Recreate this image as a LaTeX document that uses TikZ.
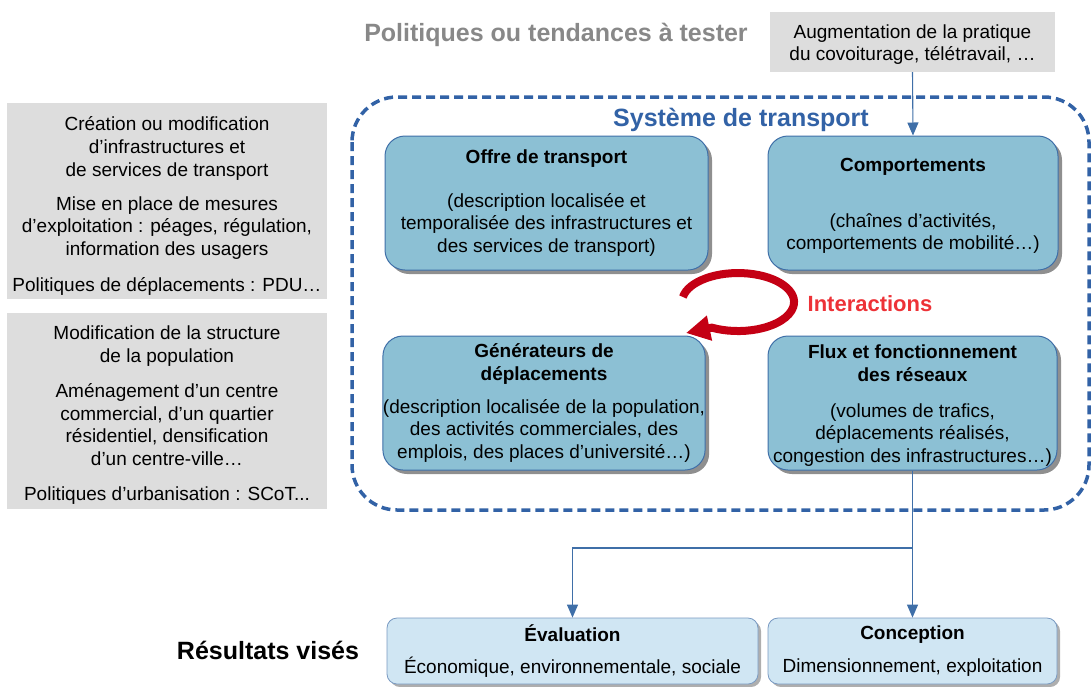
\documentclass[tikz,border=0pt]{standalone}
\usepackage{fontspec}
\setmainfont{Liberation Sans}
\usetikzlibrary{arrows.meta,shadows}
\definecolor{modblue}{RGB}{140,192,212}
\definecolor{resblue}{RGB}{208,230,243}
\definecolor{edgeblue}{RGB}{63,111,168}
\definecolor{sysblue}{RGB}{50,98,166}
\definecolor{polgray}{RGB}{221,221,221}
\definecolor{titlegray}{RGB}{136,136,136}
\definecolor{loopred}{RGB}{196,0,20}
\definecolor{interred}{RGB}{237,50,55}
\begin{document}
\begin{tikzpicture}[x=1pt, y=-1pt,
  every node/.style={font=\fontsize{19}{22.8}\selectfont, align=center, inner sep=0pt},
  modbox/.style={draw=edgeblue, fill=modblue, line width=1pt, rounded corners=20pt,
    minimum height=134pt, drop shadow={shadow xshift=4pt, shadow yshift=-4pt, fill=black!55, opacity=0.8}},
  resbox/.style={draw=edgeblue!70, fill=resblue, line width=0.8pt, rounded corners=10pt,
    minimum height=66pt, drop shadow={shadow xshift=3pt, shadow yshift=-3pt, fill=black!45, opacity=0.7}},
  polbox/.style={fill=polgray},
  flow/.style={draw=edgeblue, line width=1.1pt, -{Triangle[length=13pt, width=11pt]}},
  bigtitle/.style={font=\fontsize{25}{30}\selectfont\bfseries}]
  \useasboundingbox (0,0) rectangle (1092,686);
  % --- policies to test ---
  \node[bigtitle, text=titlegray] (poltitle) at (556,35) {Politiques ou tendances à tester};
  \node[polbox, minimum width=285pt, minimum height=60pt] (tend) at (912.5,42)
    {\rule{0pt}{19pt}Augmentation de la pratique\\du covoiturage, télétravail, …};
  \node[polbox, minimum width=320pt, minimum height=196pt] (infra) at (167,201)
    {\rule{0pt}{24pt}Création ou modification\\d’infrastructures et\\de services de transport\\[11pt]%
     Mise en place de mesures\\d’exploitation : péages, régulation,\\information des usagers\\[13pt]%
     Politiques de déplacements : PDU…};
  \node[polbox, minimum width=320pt, minimum height=196pt] (urba) at (167,411)
    {\rule{0pt}{22pt}Modification de la structure\\de la population\\[12pt]%
     Aménagement d’un centre\\commercial, d’un quartier\\résidentiel, densification\\d’un centre-ville…\\[12pt]%
     Politiques d’urbanisation : SCoT...};
  % --- transport system ---
  \draw[sysblue, line width=3.5pt, dash pattern=on 9pt off 5pt, rounded corners=45pt]
    (352,97) rectangle (1089,510);
  \node[bigtitle, text=sysblue] (systitle) at (741,120) {Système de transport};
  \node[modbox, minimum width=323pt] (offre) at (546.5,203)
    {\textbf{Offre de transport}\\[21pt](description localisée et\\temporalisée des infrastructures et\\des services de transport)};
  \node[modbox, minimum width=290pt] (comp) at (913,203)
    {\rule{0pt}{19pt}\textbf{Comportements}\\[33pt](chaînes d’activités,\\comportements de mobilité…)};
  \node[modbox, minimum width=322pt] (gen) at (544,403)
    {\textbf{Générateurs de}\\\textbf{déplacements}\\[10pt](description localisée de la population,\\des activités commerciales, des\\emplois, des places d’université…)};
  \node[modbox, minimum width=289pt] (flux) at (912.5,403)
    {\rule{0pt}{19pt}\textbf{Flux et fonctionnement}\\\textbf{des réseaux}\\[13pt](volumes de trafics,\\déplacements réalisés,\\congestion des infrastructures…)};
  % interactions loop
  \draw[loopred, line width=8pt, -{Triangle[length=24pt, width=24pt]}]
    (682.9,297) arc[start angle=190, end angle=478, x radius=56, y radius=29] -- (686,333);
  \node[font=\fontsize{22}{26}\selectfont\bfseries, text=interred] (inter) at (870,304) {Interactions};
  % --- results ---
  \node[bigtitle, text=black] (restitle) at (268,650) {Résultats visés};
  \node[resbox, minimum width=371pt] (eval) at (572.5,651)
    {\textbf{Évaluation}\\[10pt]Économique, environnementale, sociale};
  \node[resbox, minimum width=289pt] (conc) at (912.5,651)
    {\textbf{Conception}\\[10pt]Dimensionnement, exploitation};
  \coordinate (split) at (912.5,548);
  % connectors
  \draw[flow] (tend.south) -- (comp.north);
  \draw[flow] (flux.south) -- (conc.north);
  \draw[flow] (split) -| (eval.north);
\end{tikzpicture}
\end{document}
